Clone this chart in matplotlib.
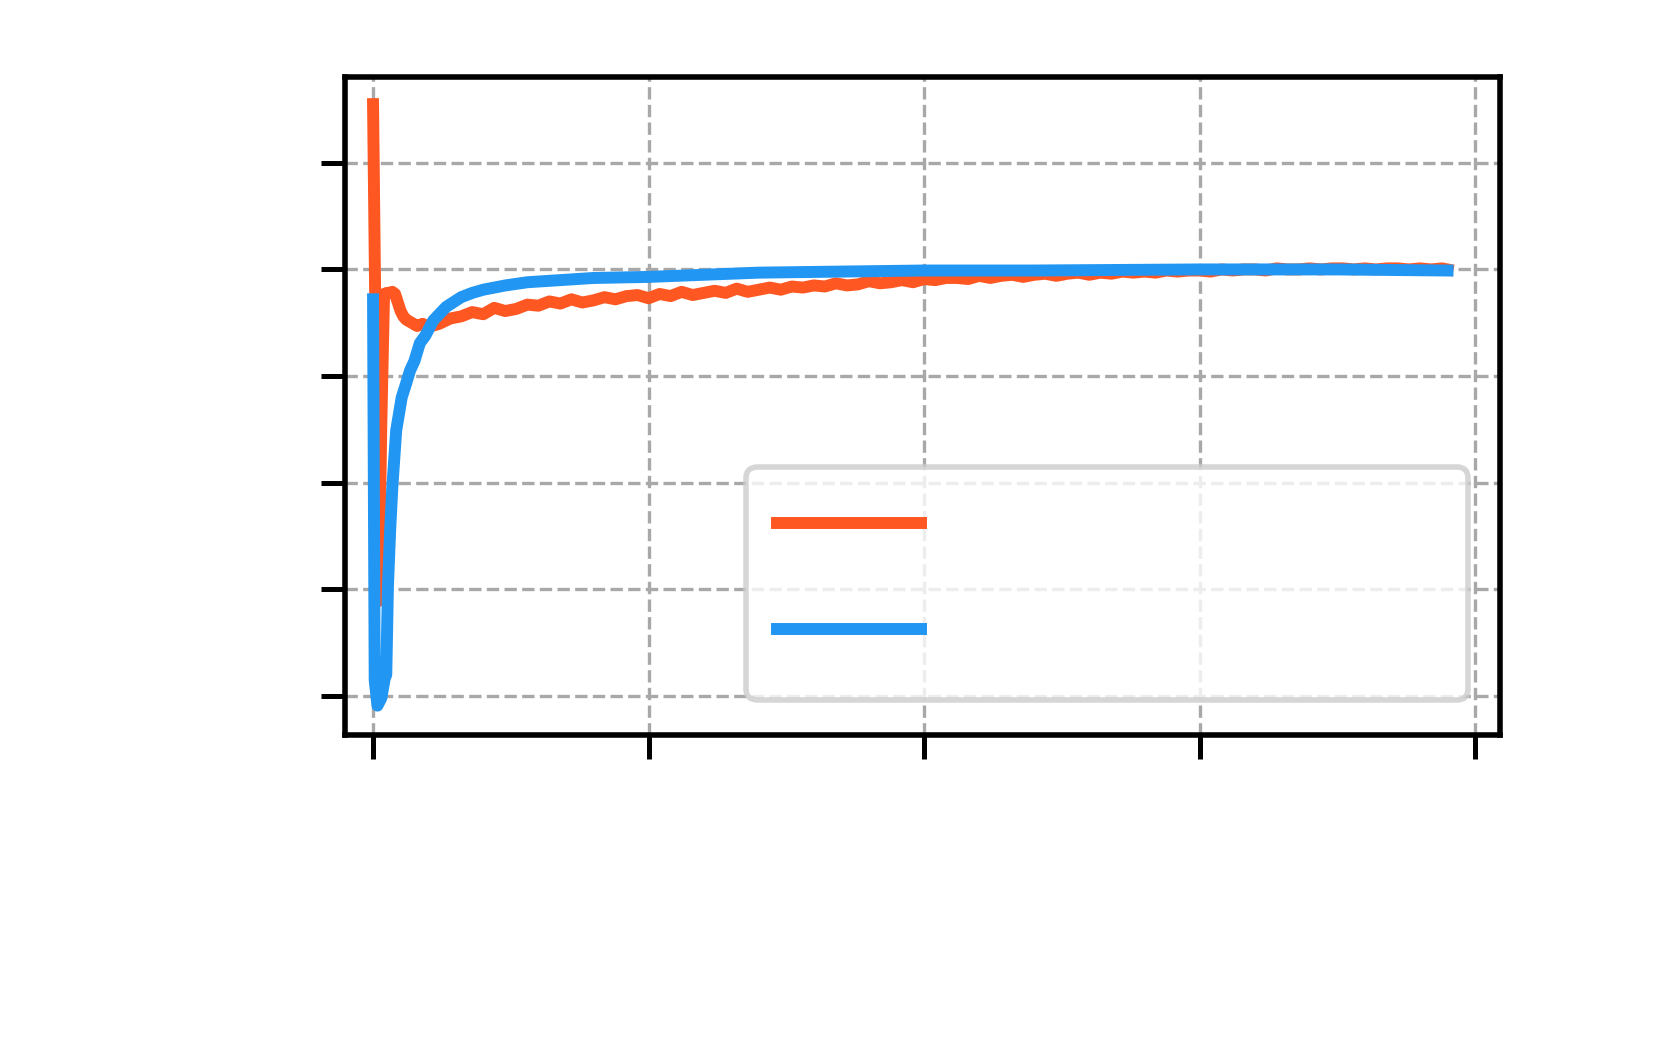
#!/usr/bin/env python3
"""
Curvas de entrenamiento: dos series que convergen al mismo valor.
Sin textos visibles (ejes y leyenda sin etiquetas), solo la forma de las curvas.
"""
import matplotlib
matplotlib.use("Agg")
import matplotlib.pyplot as plt

ORANGE = "#FF5722"
BLUE = "#2196F3"
GRID = "#a8a8a8"

# serie naranja (pico inicial, caida y subida lenta)
orange_x = [0, 1.0, 1.5, 2.0, 2.5, 3.0, 3.5, 4.0, 4.5, 5.0, 5.5, 6.0, 7.0, 8.0, 9.0, 10.0,
            12, 14, 16, 18, 20, 22, 24, 26, 28, 30, 32, 34, 36, 38, 40, 42, 44, 46, 48, 50,
            52, 54, 56, 58, 60, 62, 64, 66, 68, 70, 72, 74, 76, 78, 80, 82, 84, 86, 88, 90,
            92, 94, 96, 98, 100, 102, 104, 106, 108, 110, 112, 114, 116, 118, 120, 122, 124,
            126, 128, 130, 132, 134, 136, 138, 140, 142, 144, 146, 148, 150, 152, 154, 156,
            158, 160, 162, 164, 166, 168, 170, 172, 174, 176, 178, 180, 182, 184, 186, 188,
            190, 192, 194, 195]
orange_y = [5.55, 0.89, 2.55, 3.77, 3.78, 3.78, 3.79, 3.77, 3.69, 3.61, 3.56, 3.53, 3.50, 3.47, 3.49, 3.46,
            3.49, 3.54, 3.56, 3.60, 3.58, 3.64, 3.61, 3.63, 3.67, 3.66, 3.70, 3.68, 3.72, 3.69, 3.71, 3.74,
            3.72, 3.75, 3.76, 3.73, 3.77, 3.75, 3.79, 3.76, 3.78, 3.80, 3.78, 3.82, 3.79, 3.81, 3.83, 3.81,
            3.84, 3.83, 3.85, 3.84, 3.87, 3.85, 3.86, 3.89, 3.87, 3.88, 3.90, 3.88, 3.91, 3.90, 3.92, 3.92,
            3.91, 3.94, 3.92, 3.94, 3.95, 3.93, 3.95, 3.96, 3.94, 3.96, 3.97, 3.95, 3.97, 3.96, 3.98, 3.97,
            3.98, 3.97, 3.99, 3.98, 3.99, 3.99, 3.98, 4.00, 3.99, 4.00, 4.00, 3.99, 4.01, 4.00, 4.00, 4.01,
            4.00, 4.01, 4.01, 4.00, 4.01, 4.00, 4.01, 4.01, 4.00, 4.01, 4.00, 4.01, 4.00]

# serie azul (caida brusca y recuperacion suave)
blue_x = [0, 0.3, 0.8, 1.5, 2.1, 2.4, 2.7, 3.1, 3.5, 4.2, 5.2, 6.0, 6.7, 7.5, 8.5, 9.5, 10.9, 12,
          13.3, 14.5, 16, 18, 20, 24, 28, 34, 40, 50, 60, 70, 85, 100, 120, 150, 175, 195]
blue_y = [3.72, 0.15, -0.09, -0.02, 0.16, 0.20, 1.03, 1.55, 1.96, 2.49, 2.80, 2.93, 3.05, 3.14, 3.31,
          3.38, 3.52, 3.58, 3.65, 3.69, 3.74, 3.78, 3.81, 3.85, 3.88, 3.90, 3.92, 3.93, 3.95, 3.97,
          3.98, 3.99, 3.99, 4.00, 4.00, 3.99]

x_ticks = [0, 50, 100, 150, 200]
y_ticks = [0, 1, 2, 3, 4, 5]


def plot(out_path):
    fig = plt.figure(figsize=(8.32, 5.2), dpi=200)
    ax = fig.add_axes([0.2073, 0.2928, 0.6944, 0.6327])

    ax.plot(orange_x, orange_y, color=ORANGE, linewidth=4.3, label=" ")
    ax.plot(blue_x, blue_y, color=BLUE, linewidth=4.3, label=" ")

    ax.set_xlim(-5.1, 204.6)
    ax.set_ylim(-0.37, 5.8)
    ax.set_xticks(x_ticks)
    ax.set_yticks(y_ticks)
    ax.set_xticklabels([])
    ax.set_yticklabels([])
    ax.tick_params(direction="out", length=8.8, width=1.8, color="black")

    ax.grid(True, linestyle="--", linewidth=1.2, color=GRID)
    ax.set_axisbelow(True)
    for spine in ax.spines.values():
        spine.set_linewidth(2.0)
        spine.set_color("black")

    leg = ax.legend(loc="lower left", bbox_to_anchor=(0.3475, 0.054, 0.6245, 0.354),
                    mode="expand", borderaxespad=0, fontsize=20, handlelength=2.6,
                    handleheight=1.45, labelspacing=0.72, borderpad=0.55,
                    fancybox=True, framealpha=0.8)
    leg.get_frame().set_linewidth(2.0)

    fig.savefig(out_path, dpi=200)
    plt.close(fig)


if __name__ == "__main__":
    plot("out.png")
